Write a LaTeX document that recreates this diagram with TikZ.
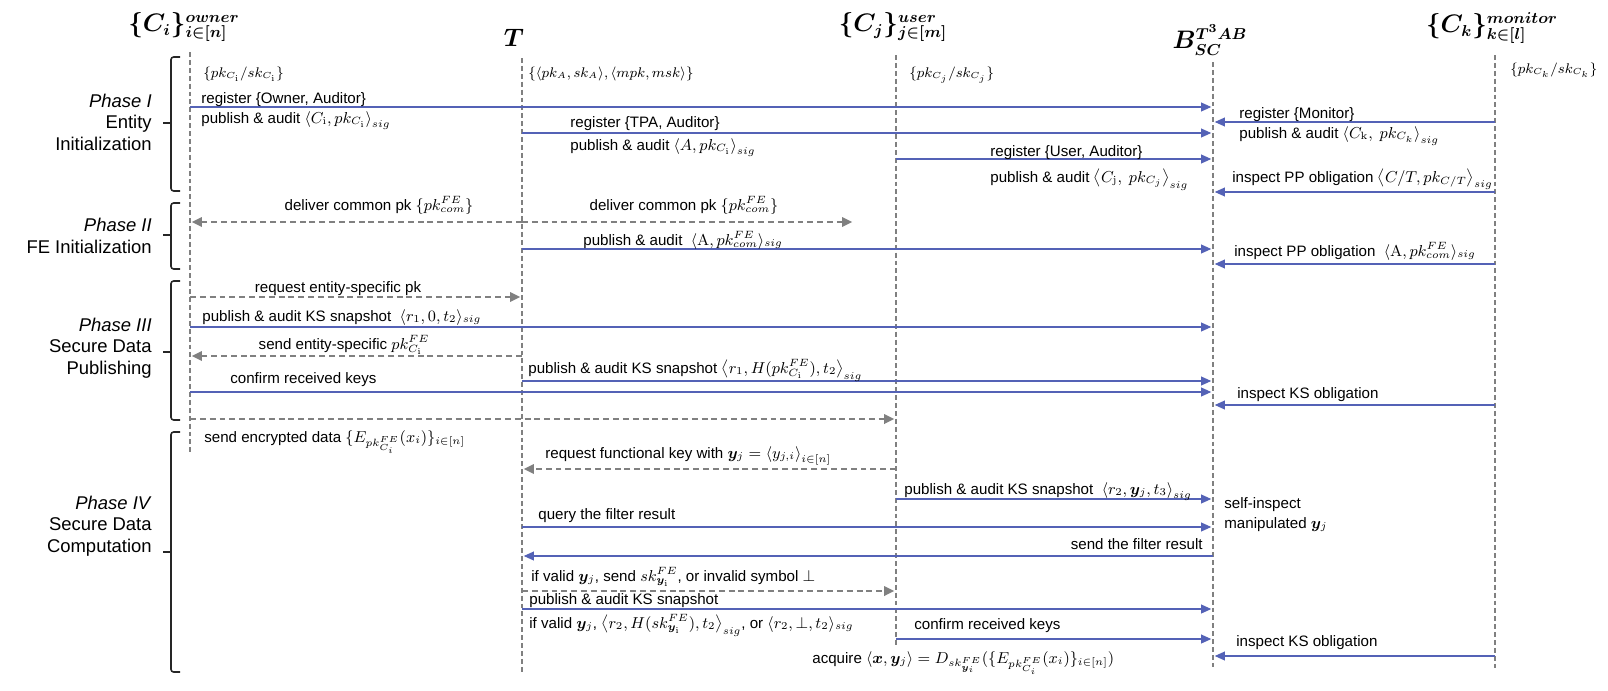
\documentclass[tikz,border=0pt]{standalone}
\usepackage[no-math]{fontspec}
\setmainfont{Liberation Sans}
\usepackage{amsmath,amssymb,bm}
\usetikzlibrary{arrows.meta,positioning}
\definecolor{msgblue}{RGB}{84,98,182}
\definecolor{lifegray}{RGB}{128,128,128}
\tikzset{every node/.style={inner sep=0pt,font=\fontsize{8.6}{10.3}\selectfont},
  head/.style={font=\fontsize{13.5}{15}\selectfont},
  ann/.style={anchor=base west,font=\fontsize{7.6}{9}\selectfont},
  lab/.style={anchor=base west},
  phase/.style={anchor=east,align=right,font=\fontsize{10.5}{12.2}\selectfont},
  lifeline/.style={draw=lifegray,line width=1pt,dash pattern=on 2.8pt off 1.7pt},
  msg/.style={draw=msgblue,line width=0.6pt,-{Triangle[length=5.7pt,width=5pt]},shorten >=1pt},
  ret/.style={draw=lifegray,line width=1pt,dash pattern=on 3.4pt off 2.2pt,-{Triangle[length=5.7pt,width=5.4pt]},shorten >=1pt},
  brk/.style={draw=black!85,line width=0.9pt,rounded corners=1.5pt}}

\begin{document}
\begin{tikzpicture}[x=0.02cm,y=-0.02cm]
\useasboundingbox (0,0) rectangle (1608,690);

\node[head] (own) at (184,27) {$\bm{\{C_i\}}^{\bm{owner}}_{\bm{i\in[n]}}$};
\node[head] (tpa) at (514,38) {$\bm{T}$};
\node[head] (usr) at (893,27) {$\bm{\{C_j\}}^{\bm{user}}_{\bm{j\in[m]}}$};
\node[head] (bsc) at (1210,40) {$\bm{B}^{\bm{T^3AB}}_{\bm{SC}}$};
\node[head] (mon) at (1492,28) {$\bm{\{C_k\}}^{\bm{monitor}}_{\bm{k\in[l]}}$};

\coordinate (oT) at (190,52);  \coordinate (oB) at (190,453);
\coordinate (tT) at (522,58);  \coordinate (tB) at (522,672);
\coordinate (uT) at (896,55);  \coordinate (uB) at (896,647);
\coordinate (bT) at (1213,62); \coordinate (bB) at (1213,667);
\coordinate (kT) at (1495,55); \coordinate (kB) at (1495,668);
\coordinate (dlv) at (854,222);

\foreach \l in {o,t,u,b,k}
  \draw[lifeline] (\l T) -- (\l B);

\foreach \ya/\ym/\yb in {57/123/191, 203/235/269, 281/352/420, 432/552/672}
  \draw[brk] (180,\ya) -- (171,\ya) -- (171,\yb) -- (180,\yb) (171,\ym) -- (163,\ym);

\node[phase] (ph1) at (152,122) {\textit{Phase I}\\Entity\\Initialization};
\node[phase] (ph2) at (152,236) {\textit{Phase II}\\FE Initialization};
\node[phase] (ph3) at (152,348) {\textit{Phase III}\\Secure Data\\Publishing};
\node[phase] (ph4) at (152,526) {\textit{Phase IV}\\Secure Data\\Computation};

\foreach \m/\a/\b/\y in {m1/oT/bT/107, m2/kT/bT/122, m3/tT/bT/133, m4/uT/bT/159,
    m5/kT/bT/192, m6/tT/bT/249, m7/kT/bT/264, m8/oT/bT/327, m9/tT/bT/381,
    m10/oT/bT/392, m11/kT/bT/405, m12/uT/bT/499, m13/tT/bT/527, m14/bT/tT/556,
    m15/tT/bT/609, m16/uT/bT/639, m17/kT/bT/656}{
  \path (\a|-0,\y) coordinate (\m s) (\b|-0,\y) coordinate (\m e);
  \draw[msg] (\m s) -- (\m e);
}
\foreach \m/\a/\b/\y in {d1/tT/oT/222, d2/tT/dlv/222, d3/oT/tT/297, d4/tT/oT/356,
    d5/oT/uT/419, d6/uT/tT/469, d7/tT/uT/591}{
  \path (\a|-0,\y) coordinate (\m s) (\b|-0,\y) coordinate (\m e);
  \draw[ret] (\m s) -- (\m e);
}

\node[ann] (aO) at (203,77) {$\{pk_{C_{\mathrm{i}}}/sk_{C_{\mathrm{i}}}\}$};
\node[ann] (aT) at (528,77) {$\{\langle pk_A,sk_A\rangle,\langle mpk,msk\rangle\}$};
\node[ann] (aU) at (909,77) {$\{pk_{C_j}/sk_{C_j}\}$};
\node[ann] (aK) at (1510,73) {$\{pk_{C_k}/sk_{C_k}\}$};

\node[lab] (r1) at (201,103) {register \{Owner, Auditor\}};
\node[lab] (p1) at (201,123) {publish \& audit $\left\langle C_{\mathrm{i}},pk_{C_{\mathrm{i}}}\right\rangle_{sig}$};
\node[lab] (r2) at (1239,118) {register \{Monitor\}};
\node[lab] (p2) at (1239,138) {publish \& audit $\left\langle C_{\mathrm{k}},\ pk_{C_k}\right\rangle_{sig}$};
\node[lab] (r3) at (570,127) {register \{TPA, Auditor\}};
\node[lab] (p3) at (570,150) {publish \& audit $\left\langle A,pk_{C_{\mathrm{i}}}\right\rangle_{sig}$};
\node[lab] (r4) at (990,156) {register \{User, Auditor\}};
\node[lab] (p4) at (990,182) {publish \& audit $\left\langle C_{\mathrm{j}},\ pk_{C_j}\right\rangle_{sig}$};
\node[lab] (i1) at (1232,182) {inspect PP obligation $\left\langle C/T,pk_{C/T}\right\rangle_{sig}$};

\node[anchor=base] (l1) at (379,210) {deliver common pk $\{pk^{FE}_{com}\}$};
\node[anchor=base] (l2) at (684,210) {deliver common pk $\{pk^{FE}_{com}\}$};
\node[lab] (p5) at (583,245) {publish \& audit\ \ $\langle\mathrm{A},pk^{FE}_{com}\rangle_{sig}$};
\node[lab] (i2) at (1234,256) {inspect PP obligation\ \ $\langle\mathrm{A},pk^{FE}_{com}\rangle_{sig}$};

\node[anchor=base] (q1) at (338,292) {request entity-specific pk};
\node[lab] (p6) at (202,321) {publish \& audit KS snapshot\ \ $\langle r_1,0,t_2\rangle_{sig}$};
\node[anchor=base] (s1) at (344,349) {send entity-specific $pk^{FE}_{C_{\mathrm{i}}}$};
\node[lab] (p7) at (528,373) {publish \& audit KS snapshot $\left\langle r_1,H(pk^{FE}_{C_{\mathrm{i}}}),t_2\right\rangle_{sig}$};
\node[lab] (c1) at (230,383) {confirm received keys};
\node[lab] (i3) at (1237,398) {inspect KS obligation};
\node[lab] (e1) at (204,442) {send encrypted data $\{E_{pk^{FE}_{C_i}}(x_i)\}_{i\in[n]}$};

\node[lab] (q2) at (545,458) {request functional key with $\bm{y}_j=\left\langle y_{j,i}\right\rangle_{i\in[n]}$};
\node[lab] (p8) at (904,494) {publish \& audit KS snapshot\ \ $\left\langle r_2,\bm{y}_j,t_3\right\rangle_{sig}$};
\node[lab] (si1) at (1224,508) {self-inspect};
\node[lab] (si2) at (1224,528) {manipulated $\bm{y}_j$};
\node[lab] (q3) at (538,519) {query the filter result};
\node[anchor=base east] (s2) at (1203,549) {send the filter result};
\node[lab] (v1) at (531,581) {if valid $\bm{y}_j$, send $sk^{FE}_{\bm{y}_{\mathrm{i}}}$, or invalid symbol $\perp$};
\node[lab] (p9) at (529,604) {publish \& audit KS snapshot};
\node[lab] (v2) at (529,628) {if valid $\bm{y}_j$, $\left\langle r_2,H(sk^{FE}_{\bm{y}_{\mathrm{i}}}),t_2\right\rangle_{sig}$, or $\langle r_2,\perp,t_2\rangle_{sig}$};
\node[lab] (c2) at (914,629) {confirm received keys};
\node[lab] (i4) at (1236,646) {inspect KS obligation};
\node[lab] (ac) at (812,663) {acquire $\langle\bm{x},\bm{y}_j\rangle=D_{sk^{FE}_{\bm{y}_i}}(\{E_{pk^{FE}_{C_i}}(x_i)\}_{i\in[n]})$};
\end{tikzpicture}
\end{document}
